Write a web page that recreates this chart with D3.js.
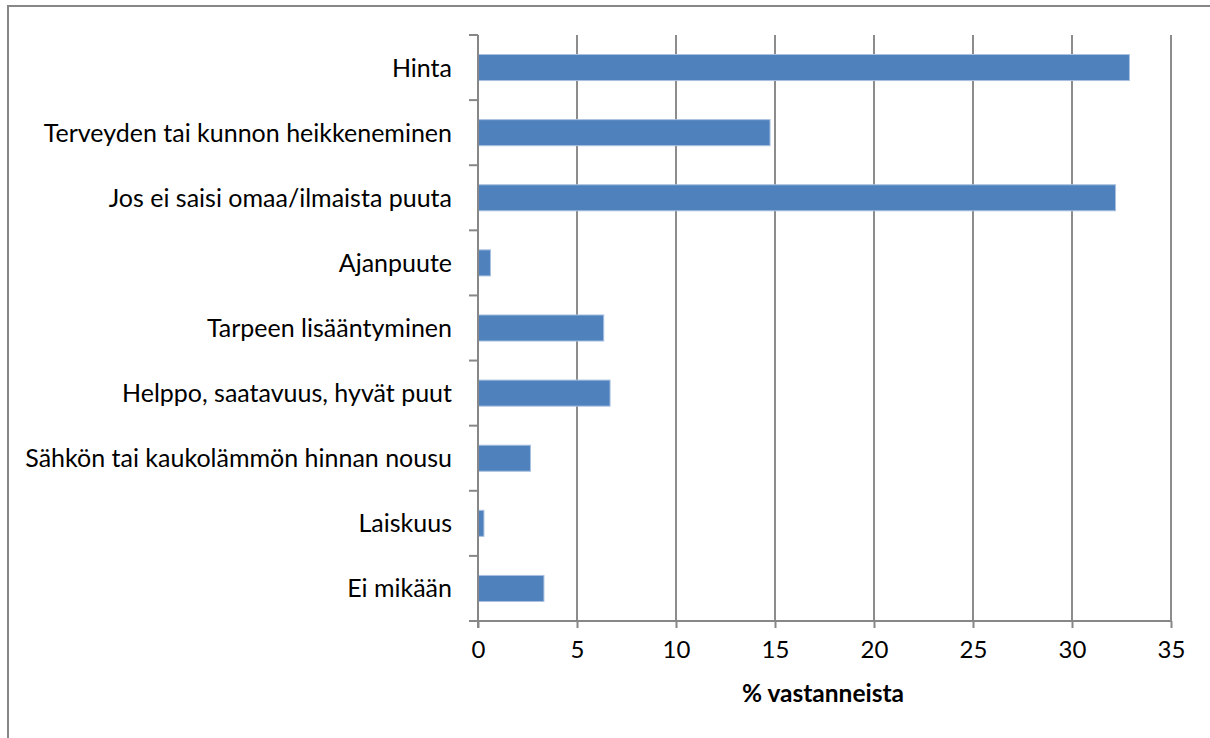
<!DOCTYPE html>
<html>
<head>
<meta charset="utf-8">
<script src="https://cdn.jsdelivr.net/npm/d3@7"></script>
<style>
  html, body { margin: 0; padding: 0; background: #fff; }
  svg { display: block; }
  text { font-family: Lato, "Open Sans", sans-serif; fill: #000; }
</style>
</head>
<body>
<svg id="chart" width="1210" height="738"></svg>
<script>
// Categories, top to bottom
const categories = [
  "Hinta",
  "Terveyden tai kunnon heikkeneminen",
  "Jos ei saisi omaa/ilmaista puuta",
  "Ajanpuute",
  "Tarpeen lisääntyminen",
  "Helppo, saatavuus, hyvät puut",
  "Sähkön tai kaukolämmön hinnan nousu",
  "Laiskuus",
  "Ei mikään"
];
// Share of respondents (%)
const values = [32.9, 14.75, 32.2, 0.63, 6.35, 6.67, 2.65, 0.3, 3.33];
const xTicks = [0, 5, 10, 15, 20, 25, 30, 35];
const xTitle = "% vastanneista";

const svg = d3.select("#chart");
const plot = { left: 478, right: 1171, top: 35, bottom: 621 };

// Outer chart frame (extends past the right and bottom edges)
svg.append("rect")
  .attr("x", 8).attr("y", 6)
  .attr("width", 1240).attr("height", 800)
  .attr("fill", "none")
  .attr("stroke", "#878787")
  .attr("stroke-width", 2);

const x = d3.scaleLinear().domain([0, 35]).range([plot.left, plot.right]);
const y = d3.scaleBand().domain(categories)
  .range([plot.top, plot.bottom])
  .paddingInner(0.6).paddingOuter(0.3);
const step = y.step();

// Vertical gridlines
svg.append("g").selectAll("line")
  .data(xTicks.filter(t => t > 0))
  .join("line")
  .attr("x1", d => x(d)).attr("x2", d => x(d))
  .attr("y1", plot.top).attr("y2", plot.bottom)
  .attr("stroke", "#8c8c8c")
  .attr("stroke-width", 2);

// Bars
svg.append("g").selectAll("rect")
  .data(values)
  .join("rect")
  .attr("x", x(0))
  .attr("y", (d, i) => y(categories[i]))
  .attr("width", d => x(d) - x(0))
  .attr("height", y.bandwidth())
  .attr("fill", "#4f81bd")
  .attr("stroke", "#a9c1e0")
  .attr("stroke-width", 1);

// X axis
const xAxis = d3.axisBottom(x).tickValues(xTicks).tickSize(7).tickPadding(13);
const gx = svg.append("g")
  .attr("transform", `translate(0,${plot.bottom})`)
  .call(xAxis);
gx.select(".domain").attr("stroke", "#878787").attr("stroke-width", 2)
  .attr("d", `M${plot.left - 9},0H${plot.right}`);
gx.selectAll(".tick line").attr("stroke", "#878787").attr("stroke-width", 2);
gx.selectAll(".tick text")
  .style("font-family", "Lato, 'Open Sans', sans-serif")
  .style("font-size", "24px")
  .attr("fill", "#000");

// Y axis: category boundary ticks and labels
const gy = svg.append("g");
gy.append("line")
  .attr("x1", plot.left).attr("x2", plot.left)
  .attr("y1", plot.top).attr("y2", plot.bottom + 7)
  .attr("stroke", "#878787").attr("stroke-width", 2);
gy.selectAll("line.tick")
  .data(d3.range(categories.length))
  .join("line")
  .attr("class", "tick")
  .attr("x1", plot.left - 9).attr("x2", plot.left)
  .attr("y1", i => plot.top + i * step)
  .attr("y2", i => plot.top + i * step)
  .attr("stroke", "#878787").attr("stroke-width", 2);
gy.selectAll("text")
  .data(categories)
  .join("text")
  .attr("x", 452)
  .attr("y", d => y(d) + y.bandwidth() / 2)
  .attr("dy", "0.36em")
  .attr("text-anchor", "end")
  .style("font-size", "25px")
  .text(d => d);

// Axis title
svg.append("text")
  .attr("x", 823).attr("y", 702)
  .attr("text-anchor", "middle")
  .style("font-size", "24.5px")
  .style("font-weight", "bold")
  .text(xTitle);
</script>
</body>
</html>
